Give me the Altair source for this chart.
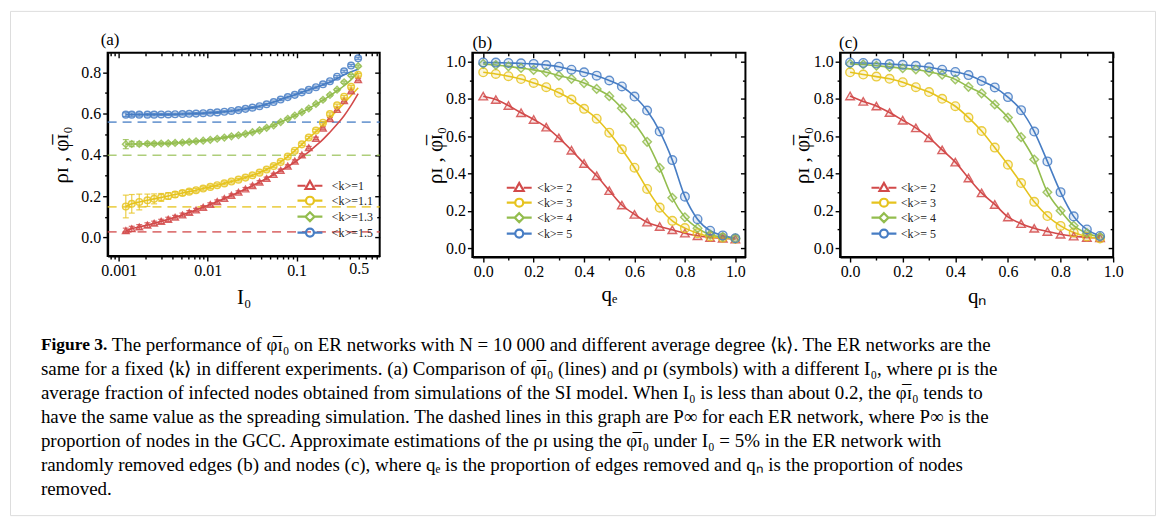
import altair as alt
import pandas as pd

# ---------------- data ----------------
I0 = [0.0012, 0.0014, 0.0017, 0.0021, 0.0025, 0.0030, 0.0036, 0.0043, 0.0052, 0.0062,
      0.0074, 0.0089, 0.0107, 0.0128, 0.0154, 0.0185, 0.0222, 0.0266, 0.0319, 0.0383,
      0.0460, 0.0552, 0.0662, 0.0795, 0.0954, 0.1145, 0.137, 0.165, 0.198, 0.237,
      0.285, 0.342, 0.410, 0.492]

A_SERIES = ["<k>=1", "<k>=1.1", "<k>=1.3", "<k>=1.5"]

A_RHO_K1 = [0.033, 0.042, 0.051, 0.060, 0.069, 0.078, 0.088, 0.098, 0.109, 0.121,
            0.133, 0.146, 0.160, 0.174, 0.189, 0.204, 0.219, 0.235, 0.251, 0.268,
            0.286, 0.305, 0.325, 0.346, 0.370, 0.400, 0.435, 0.480, 0.530, 0.575,
            0.620, 0.663, 0.710, 0.765]
A_PHI_K1 = [0.033, 0.042, 0.051, 0.060, 0.069, 0.078, 0.088, 0.098, 0.109, 0.121,
            0.133, 0.146, 0.160, 0.174, 0.189, 0.204, 0.219, 0.235, 0.251, 0.268,
            0.286, 0.305, 0.325, 0.343, 0.365, 0.390, 0.415, 0.445, 0.475, 0.510,
            0.548, 0.590, 0.640, 0.697]
A_ERR_K1 = [0.012, 0.012, 0.011, 0.011, 0.010, 0.010, 0.010, 0.009, 0.009, 0.009,
            0.008, 0.008, 0.008, 0.008, 0.007, 0.007, 0.007, 0.007, 0.007, 0.007,
            0.006, 0.006, 0.006, 0.006, 0.006, 0.006, 0.006, 0.006, 0.006, 0.006,
            0.006, 0.006, 0.006, 0.006]

A_RHO_K11 = [0.150, 0.163, 0.172, 0.180, 0.187, 0.194, 0.201, 0.208, 0.215, 0.222,
             0.229, 0.237, 0.245, 0.253, 0.262, 0.271, 0.280, 0.290, 0.301, 0.314,
             0.329, 0.346, 0.366, 0.392, 0.420, 0.451, 0.484, 0.518, 0.556, 0.598,
             0.640, 0.682, 0.730, 0.788]
A_PHI_K11 = [0.150, 0.163, 0.172, 0.180, 0.187, 0.194, 0.201, 0.208, 0.215, 0.222,
             0.229, 0.237, 0.245, 0.253, 0.262, 0.271, 0.280, 0.290, 0.301, 0.314,
             0.329, 0.346, 0.366, 0.392, 0.420, 0.451, 0.482, 0.512, 0.545, 0.580,
             0.615, 0.650, 0.688, 0.725]
A_ERR_K11 = [0.055, 0.045, 0.038, 0.030, 0.024, 0.019, 0.016, 0.013, 0.011, 0.010,
             0.009, 0.008, 0.008, 0.007, 0.007, 0.007, 0.006, 0.006, 0.006, 0.006,
             0.006, 0.006, 0.006, 0.006, 0.006, 0.006, 0.006, 0.006, 0.006, 0.006,
             0.006, 0.006, 0.006, 0.006]

A_RHO_K13 = [0.452, 0.453, 0.453, 0.454, 0.454, 0.455, 0.456, 0.458, 0.460, 0.463,
             0.466, 0.469, 0.473, 0.478, 0.484, 0.490, 0.495, 0.502, 0.510, 0.519,
             0.531, 0.543, 0.559, 0.575, 0.591, 0.607, 0.625, 0.647, 0.667, 0.690,
             0.716, 0.752, 0.785, 0.830]
A_PHI_K13 = [0.452, 0.453, 0.453, 0.454, 0.454, 0.455, 0.456, 0.458, 0.460, 0.463,
             0.466, 0.469, 0.473, 0.478, 0.484, 0.490, 0.495, 0.502, 0.510, 0.519,
             0.531, 0.543, 0.559, 0.575, 0.591, 0.607, 0.625, 0.645, 0.665, 0.687,
             0.710, 0.735, 0.765, 0.800]
A_ERR_K13 = [0.022, 0.013, 0.010, 0.008, 0.007, 0.006, 0.006, 0.006, 0.005, 0.005,
             0.005, 0.005, 0.005, 0.005, 0.005, 0.005, 0.005, 0.005, 0.005, 0.005,
             0.005, 0.005, 0.005, 0.005, 0.005, 0.005, 0.005, 0.005, 0.005, 0.005,
             0.005, 0.005, 0.005, 0.005]

A_RHO_K15 = [0.595, 0.595, 0.595, 0.595, 0.595, 0.596, 0.596, 0.597, 0.598, 0.599,
             0.600, 0.602, 0.604, 0.606, 0.609, 0.613, 0.617, 0.623, 0.629, 0.636,
             0.645, 0.656, 0.668, 0.680, 0.691, 0.703, 0.715, 0.728, 0.742, 0.757,
             0.779, 0.805, 0.833, 0.868]
A_PHI_K15 = [0.595, 0.595, 0.595, 0.595, 0.595, 0.596, 0.596, 0.597, 0.598, 0.599,
             0.600, 0.602, 0.604, 0.606, 0.609, 0.613, 0.617, 0.623, 0.629, 0.636,
             0.645, 0.656, 0.668, 0.680, 0.691, 0.703, 0.715, 0.727, 0.740, 0.752,
             0.770, 0.788, 0.803, 0.815]
A_ERR_K15 = [0.009, 0.008, 0.007, 0.006, 0.006, 0.005, 0.005, 0.005, 0.005, 0.005,
             0.005, 0.005, 0.005, 0.005, 0.005, 0.005, 0.005, 0.005, 0.005, 0.005,
             0.005, 0.005, 0.005, 0.005, 0.005, 0.005, 0.005, 0.005, 0.005, 0.005,
             0.005, 0.005, 0.005, 0.005]

A_PINF = [0.027, 0.148, 0.398, 0.559]

Q_E = [0.0, 0.05, 0.1, 0.15, 0.2, 0.25, 0.3, 0.35, 0.4, 0.45, 0.5,
       0.55, 0.6, 0.65, 0.7, 0.75, 0.8, 0.85, 0.9, 0.95, 1.0]
B_SERIES = ["<k>= 2", "<k>= 3", "<k>= 4", "<k>= 5"]
B_K2 = [0.815, 0.797, 0.765, 0.726, 0.690, 0.649, 0.591, 0.525, 0.454, 0.388, 0.308,
        0.231, 0.181, 0.139, 0.116, 0.098, 0.080, 0.066, 0.057, 0.053, 0.048]
B_K3 = [0.943, 0.934, 0.922, 0.907, 0.886, 0.863, 0.833, 0.797, 0.747, 0.694, 0.619,
        0.530, 0.431, 0.317, 0.217, 0.146, 0.107, 0.080, 0.062, 0.055, 0.050]
B_K4 = [0.988, 0.982, 0.975, 0.966, 0.956, 0.943, 0.925, 0.908, 0.885, 0.854, 0.815,
        0.750, 0.670, 0.570, 0.430, 0.270, 0.165, 0.107, 0.072, 0.060, 0.052]
B_K5 = [0.996, 0.995, 0.993, 0.991, 0.988, 0.982, 0.973, 0.957, 0.943, 0.925, 0.899,
        0.867, 0.813, 0.738, 0.626, 0.472, 0.276, 0.155, 0.093, 0.068, 0.053]

Q_N = [0.0, 0.05, 0.1, 0.15, 0.2, 0.25, 0.3, 0.35, 0.4, 0.45,
       0.5, 0.55, 0.6, 0.65, 0.7, 0.75, 0.8, 0.85, 0.9, 0.95]
C_K2 = [0.816, 0.787, 0.762, 0.727, 0.686, 0.645, 0.592, 0.527, 0.461, 0.376,
        0.296, 0.234, 0.167, 0.131, 0.106, 0.089, 0.074, 0.064, 0.057, 0.055]
C_K3 = [0.943, 0.931, 0.920, 0.908, 0.890, 0.863, 0.837, 0.801, 0.761, 0.700,
        0.628, 0.539, 0.447, 0.349, 0.248, 0.172, 0.119, 0.083, 0.062, 0.052]
C_K4 = [0.988, 0.985, 0.978, 0.972, 0.965, 0.958, 0.945, 0.930, 0.905, 0.865,
        0.830, 0.770, 0.700, 0.595, 0.475, 0.300, 0.200, 0.120, 0.080, 0.060]
C_K5 = [0.996, 0.993, 0.990, 0.987, 0.983, 0.978, 0.970, 0.957, 0.945, 0.928,
        0.897, 0.862, 0.810, 0.740, 0.625, 0.465, 0.300, 0.170, 0.100, 0.065]

PHI = "\u03c6\u0305\u026a\u2080"
RHO = "\u03c1\u026a"
Y_TITLE = RHO + " , " + PHI
CAPTION_HEAD = "Figure 3."
CAPTION_LINE1 = ("The performance of " + PHI + " on ER networks with N = 10 000 and different "
                 "average degree \u27e8k\u27e9. The ER networks are the")
CAPTION_LINES = [
    "same for a fixed \u27e8k\u27e9 in different experiments. (a) Comparison of " + PHI +
    " (lines) and " + RHO + " (symbols) with a different I\u2080, where " + RHO + " is the",
    "average fraction of infected nodes obtained from simulations of the SI model. When I\u2080 "
    "is less than about 0.2, the " + PHI + " tends to",
    "have the same value as the spreading simulation. The dashed lines in this graph are P\u221e "
    "for each ER network, where P\u221e is the",
    "proportion of nodes in the GCC. Approximate estimations of the " + RHO + " using the " + PHI +
    " under I\u2080 = 5% in the ER network with",
    "randomly removed edges (b) and nodes (c), where q\u2091 is the proportion of edges removed "
    "and q\u2099 is the proportion of nodes",
    "removed.",
]

# ---------------- styling ----------------
FONT = "Liberation Serif"
COLORS = ["#D24A4A", "#E6C31E", "#93BD4E", "#477DC4"]
SHAPES = ["triangle-up", "circle", "diamond", "circle"]
# legend glyphs: a short line with the open marker in the middle (unit = 5 px at size 100)
LEG_PATHS = [
    "M-2.5,0H-0.9M0.9,0H2.5M0,-0.95L0.9,0.65L-0.9,0.65Z",
    "M-2.5,0H-0.8M0.8,0H2.5M0.8,0A0.8,0.8,0,1,1,-0.8,0A0.8,0.8,0,1,1,0.8,0Z",
    "M-2.5,0H-0.9M0.9,0H2.5M0,-0.9L0.9,0L0,0.9L-0.9,0Z",
    "M-2.5,0H-0.8M0.8,0H2.5M0.8,0A0.8,0.8,0,1,1,-0.8,0A0.8,0.8,0,1,1,0.8,0Z",
]
LEG_SIZE = 100
OX, OY = 10, 10
W, H = 1149, 506


def rx(p):
    return p - OX


def ry(p):
    return p - OY


def tick_cond(major_test, big=5, small=3):
    return {"condition": {"test": major_test, "value": big}, "value": small}


def scales(cfg):
    xs = alt.Scale(type=cfg["xtype"], domain=cfg["xdom"],
                   range=[rx(cfg["left"]), rx(cfg["right"])], nice=False, zero=False)
    ys = alt.Scale(domain=cfg["ydom"], range=[ry(cfg["bottom"]), ry(cfg["top"])],
                   nice=False, zero=False)
    return xs, ys


def build_panel(xvals, series, sym_vals, line_vals, cfg, err_vals=None, pinf=None):
    xs, ys = scales(cfg)
    common = dict(domain=True, domainColor="black", domainWidth=2, grid=False,
                  tickColor="black", tickWidth=1.4, labelFont=FONT, labelFontSize=16,
                  labelColor="black", titleFont=FONT, titleFontSize=21,
                  titleFontWeight="normal", titleColor="black", labelPadding=2)
    xax = alt.Axis(orient="bottom", offset=ry(cfg["bottom"]) - H, values=cfg["xticks"],
                   labelExpr=cfg["xlabel"], tickSize=tick_cond(cfg["xmajor"]),
                   title=cfg["xtitle"], titleY=cfg["xtitle_dy"], titleBaseline="middle",
                   labelFlush=False, labelOverlap=False, **common)
    yax = alt.Axis(orient="left", offset=-rx(cfg["left"]), values=cfg["yticks"],
                   labelExpr=cfg["ylabel"], tickSize=tick_cond(cfg["ymajor"]),
                   title=Y_TITLE, titleX=cfg["ytitle_dx"],
                   titleY=(ry(cfg["top"]) + ry(cfg["bottom"])) / 2, titleAngle=270,
                   titleBaseline="middle", titleAlign="center", labelFlush=False,
                   labelOverlap=False, **common)

    def X(field):
        return alt.X(field, scale=xs, axis=xax)

    def Y(field):
        return alt.Y(field, scale=ys, axis=yax)

    dummy = pd.DataFrame({"d": [0]})
    layers = []
    layers.append(
        alt.Chart(dummy).mark_rect(filled=False, stroke="black", strokeWidth=2).encode(
            x=alt.XDatum(cfg["xdom"][0], type="quantitative", scale=xs, axis=xax),
            x2=alt.X2Datum(cfg["xdom"][1]),
            y=alt.YDatum(cfg["ydom"][0], type="quantitative", scale=ys, axis=yax),
            y2=alt.Y2Datum(cfg["ydom"][1]),
        ))
    if pinf is not None:
        for i, p in enumerate(pinf):
            layers.append(
                alt.Chart(pd.DataFrame({"p": [p]})).mark_rule(
                    color=COLORS[i], strokeDash=[9, 6], strokeWidth=1.6, opacity=0.75).encode(
                    x=alt.XDatum(cfg["xdom"][0], type="quantitative", scale=xs, axis=xax),
                    x2=alt.X2Datum(cfg["xdom"][1]),
                    y=Y("p:Q"),
                ))
    for i, s in enumerate(series):
        df = pd.DataFrame({"x": xvals, "v": line_vals[i]})
        layers.append(
            alt.Chart(df).mark_line(color=COLORS[i], strokeWidth=1.6,
                                    interpolate="monotone").encode(x=X("x:Q"), y=Y("v:Q")))
    for i, s in enumerate(series):
        df = pd.DataFrame({"x": xvals, "v": sym_vals[i]})
        if err_vals is not None:
            df["lo"] = [v - e for v, e in zip(sym_vals[i], err_vals[i])]
            df["hi"] = [v + e for v, e in zip(sym_vals[i], err_vals[i])]
            layers.append(
                alt.Chart(df).mark_rule(color=COLORS[i], strokeWidth=1.2, opacity=0.8).encode(
                    x=X("x:Q"), y=Y("lo:Q"), y2="hi:Q"))
            for f in ["lo", "hi"]:
                layers.append(
                    alt.Chart(df).mark_tick(color=COLORS[i], orient="horizontal", size=6,
                                            thickness=1.2, opacity=0.8).encode(
                        x=X("x:Q"), y=Y(f + ":Q")))
        layers.append(
            alt.Chart(df).mark_point(shape=SHAPES[i], size=cfg["msize"], filled=True,
                                     fill=COLORS[i], fillOpacity=0.15, stroke=COLORS[i],
                                     strokeWidth=1.4, strokeOpacity=0.85).encode(
                x=X("x:Q"), y=Y("v:Q")))
    # legend (symbols drawn by the legend, points themselves lie outside the frame)
    leg_kw = dict(orient="none", legendX=rx(cfg["leg_left"]) + 7.5,
                  legendY=ry(cfg["leg_top"]) - 7, title=None, labelFont=FONT,
                  labelFontSize=12, labelColor="#222", symbolSize=LEG_SIZE,
                  symbolStrokeWidth=2.2, rowPadding=cfg["leg_pad"],
                  labelOffset=cfg["leg_off"] + 7.5, padding=0, symbolType="circle")
    ymin_out = cfg["ydom"][0] - 10
    layers.append(
        alt.Chart(pd.DataFrame({"series": series})).mark_point(
            clip=True, filled=False, size=LEG_SIZE, strokeWidth=2.2, opacity=1).encode(
            x=alt.XDatum(cfg["xdom"][0], type="quantitative", scale=xs, axis=xax),
            y=alt.YDatum(ymin_out, type="quantitative", scale=ys, axis=yax),
            color=alt.Color("series:N", scale=alt.Scale(domain=series, range=COLORS),
                            legend=alt.Legend(**leg_kw)),
            shape=alt.Shape("series:N", scale=alt.Scale(domain=series, range=LEG_PATHS),
                            legend=alt.Legend(**leg_kw)),
        ))
    layers.append(
        alt.Chart(pd.DataFrame({"t": [cfg["tag"]]})).mark_text(
            font=FONT, fontSize=17, align="left", baseline="middle", color="black").encode(
            text="t:N", x=alt.value(rx(cfg["tag_x"])), y=alt.value(ry(cfg["tag_y"]))))
    return alt.layer(*layers)


def build_mirror(cfg):
    """Inward ticks on the top and right edges of a panel's frame."""
    xs, ys = scales(cfg)
    mirror = dict(domain=False, grid=False, labels=False, title=None, tickColor="black",
                  tickWidth=1.4)
    xtop = alt.Axis(orient="bottom", offset=ry(cfg["top"]) - H, values=cfg["xticks"],
                    tickSize=tick_cond(cfg["xmajor"]), **mirror)
    yright = alt.Axis(orient="left", offset=-rx(cfg["right"]), values=cfg["yticks"],
                      tickSize=tick_cond(cfg["ymajor"]), **mirror)
    return alt.Chart(pd.DataFrame({"d": [0]})).mark_point(opacity=0).encode(
        x=alt.XDatum(cfg["xdom"][0], type="quantitative", scale=xs, axis=xtop),
        y=alt.YDatum(cfg["ydom"][0], type="quantitative", scale=ys, axis=yright),
    )


LIN_TICKS = [0.0, 0.1, 0.2, 0.3, 0.4, 0.5, 0.6, 0.7, 0.8, 0.9, 1.0]
LIN_LABEL = "(round(datum.value*10) % 2 == 0) ? format(datum.value, '.1f') : ''"
LIN_MAJOR = "round(datum.value*10) % 2 == 0"
LOG_TICKS = [0.0008, 0.0009, 0.001, 0.002, 0.003, 0.004, 0.005, 0.006, 0.007, 0.008, 0.009,
             0.01, 0.02, 0.03, 0.04, 0.05, 0.06, 0.07, 0.08, 0.09,
             0.1, 0.2, 0.3, 0.4, 0.5, 0.6, 0.7, 0.8]
LOG_LABEL = "indexof([0.001, 0.01, 0.1, 0.5], datum.value) >= 0 ? format(datum.value, '~g') : ''"
LOG_MAJOR = "indexof([0.001, 0.01, 0.1], datum.value) >= 0"

cfg_a = dict(xtype="log", xdom=[0.00075, 0.86], ydom=[-0.09, 0.895],
             left=108, right=381, top=52, bottom=256,
             xticks=LOG_TICKS, xlabel=LOG_LABEL, xmajor=LOG_MAJOR,
             yticks=[0.0, 0.1, 0.2, 0.3, 0.4, 0.5, 0.6, 0.7, 0.8], ylabel=LIN_LABEL,
             ymajor=LIN_MAJOR, xtitle="I\u2080", xtitle_dy=42, ytitle_dx=-46,
             msize=45, leg_left=297, leg_top=186, leg_off=8, leg_pad=-2,
             tag="(a)", tag_x=101, tag_y=39)
cfg_b = dict(xtype="linear", xdom=[-0.043, 1.04], ydom=[-0.048, 1.048],
             left=474, right=748, top=52, bottom=257,
             xticks=LIN_TICKS, xlabel=LIN_LABEL, xmajor=LIN_MAJOR,
             yticks=LIN_TICKS, ylabel=LIN_LABEL, ymajor=LIN_MAJOR,
             xtitle="q\u2091", xtitle_dy=38, ytitle_dx=-37,
             msize=75, leg_left=507, leg_top=188, leg_off=4, leg_pad=-3,
             tag="(b)", tag_x=474, tag_y=42)
cfg_c = dict(xtype="linear", xdom=[-0.038, 1.0], ydom=[-0.048, 1.048],
             left=843, right=1117, top=52, bottom=257,
             xticks=LIN_TICKS, xlabel=LIN_LABEL, xmajor=LIN_MAJOR,
             yticks=LIN_TICKS, ylabel=LIN_LABEL, ymajor=LIN_MAJOR,
             xtitle="q\u2099", xtitle_dy=40, ytitle_dx=-38,
             msize=75, leg_left=873, leg_top=188, leg_off=3, leg_pad=-3,
             tag="(c)", tag_x=842, tag_y=42)

panel_a = build_panel(I0, A_SERIES,
                      [A_RHO_K1, A_RHO_K11, A_RHO_K13, A_RHO_K15],
                      [A_PHI_K1, A_PHI_K11, A_PHI_K13, A_PHI_K15], cfg_a,
                      err_vals=[A_ERR_K1, A_ERR_K11, A_ERR_K13, A_ERR_K15], pinf=A_PINF)
panel_b = build_panel(Q_E, B_SERIES, [B_K2, B_K3, B_K4, B_K5], [B_K2, B_K3, B_K4, B_K5], cfg_b)
panel_c = build_panel(Q_N, B_SERIES, [C_K2, C_K3, C_K4, C_K5], [C_K2, C_K3, C_K4, C_K5], cfg_c)

# ---------------- caption ----------------
cap_scale = alt.Scale(domain=[0, 6], range=[ry(345), ry(490)], nice=False, zero=False)
cap_head = alt.Chart(pd.DataFrame({"row": [0], "text": [CAPTION_HEAD]})).mark_text(
    font=FONT, fontSize=17.5, fontWeight="bold", align="left", baseline="middle",
    color="black").encode(text="text:N", x=alt.value(rx(41)),
                          y=alt.Y("row:Q", scale=cap_scale, axis=None))
cap_first = alt.Chart(pd.DataFrame({"row": [0], "text": [CAPTION_LINE1]})).mark_text(
    font=FONT, fontSize=19, align="left", baseline="middle", color="black").encode(
    text="text:N", x=alt.value(rx(112)), y=alt.Y("row:Q", scale=cap_scale, axis=None))
cap_rest = alt.Chart(pd.DataFrame({"row": list(range(1, 7)), "text": CAPTION_LINES})).mark_text(
    font=FONT, fontSize=19, align="left", baseline="middle", color="black").encode(
    text="text:N", x=alt.value(rx(41)), y=alt.Y("row:Q", scale=cap_scale, axis=None))
caption = alt.layer(cap_head, cap_first, cap_rest)

chart = alt.layer(
    panel_a, build_mirror(cfg_a), panel_b, build_mirror(cfg_b), panel_c, build_mirror(cfg_c),
    caption
).resolve_scale(
    x="independent", y="independent", color="independent", shape="independent"
).resolve_axis(x="independent", y="independent").resolve_legend(
    color="independent", shape="independent"
).properties(
    width=W, height=H, autosize=alt.AutoSizeParams(type="none"),
    padding={"left": 2, "top": 2, "right": 2, "bottom": 2},
).configure_view(stroke="#8c8c8c", strokeWidth=2.5).configure(background="white")

chart.save("out.html", embed_options={"renderer": "svg", "actions": False})
